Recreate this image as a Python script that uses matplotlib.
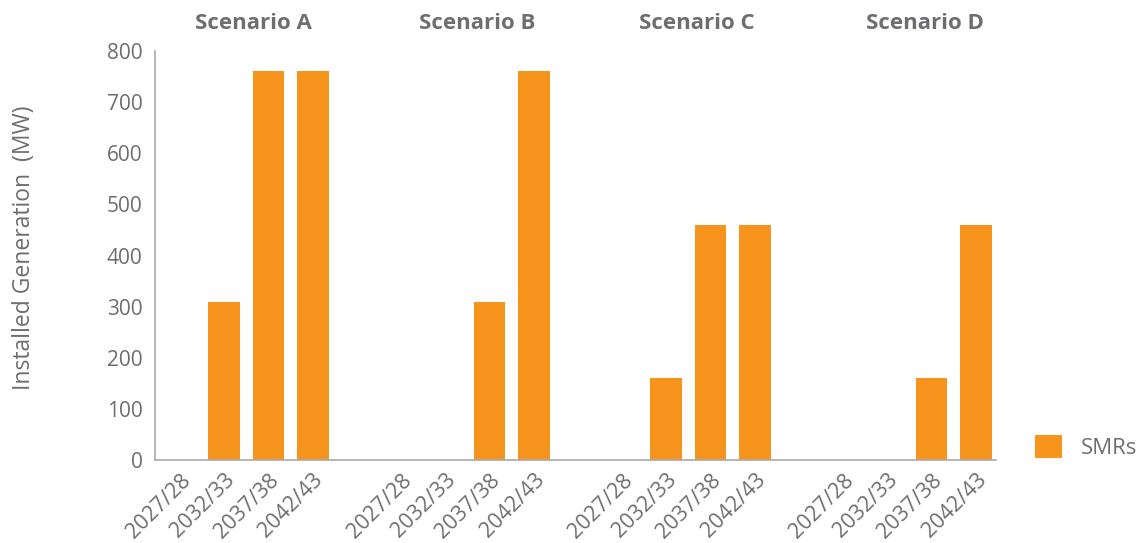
import matplotlib
matplotlib.use("Agg")
import matplotlib.pyplot as plt
from matplotlib.patches import Patch

plt.rcParams['font.family'] = ['Open Sans', 'DejaVu Sans']

scenarios = ["Scenario A", "Scenario B", "Scenario C", "Scenario D"]
years = ["2027/28", "2032/33", "2037/38", "2042/43"]
smr_values = {
    "Scenario A": [0, 310, 760, 760],
    "Scenario B": [0, 0, 310, 760],
    "Scenario C": [0, 160, 460, 460],
    "Scenario D": [0, 0, 160, 460],
}
yticks = [0, 100, 200, 300, 400, 500, 600, 700, 800]

BAR_COLOR = "#f7941d"
TEXT_COLOR = "#6d6e71"
AXIS_COLOR = "#a7a9ac"

fig = plt.figure(figsize=(11.39, 5.43), dpi=100)
ax = fig.add_axes([155 / 1139, 1 - 460 / 543, (996 - 155) / 1139, (460 - 51) / 543])

positions, labels, heights = [], [], []
group_centers = []
for g, sc in enumerate(scenarios):
    base = g * 5
    for i, (yr, v) in enumerate(zip(years, smr_values[sc])):
        positions.append(base + i)
        labels.append(yr)
        heights.append(v)
    group_centers.append(base + 1.5)

ax.bar(positions, heights, width=0.72, color=BAR_COLOR, zorder=2)

ax.set_xlim(-0.566, 18.46)
ax.set_ylim(0, 800)
ax.set_yticks(yticks)
ax.set_yticklabels([str(t) for t in yticks], fontsize=15, color=TEXT_COLOR)
ax.set_xticks(positions)
ax.set_xticklabels(labels, rotation=45, ha="right", rotation_mode="anchor",
                   fontsize=15.5, color=TEXT_COLOR)
ax.tick_params(axis="x", length=0, pad=7)
ax.tick_params(axis="y", length=0, pad=9)

for s in ["top", "right"]:
    ax.spines[s].set_visible(False)
ax.spines["left"].set_color(AXIS_COLOR)
ax.spines["bottom"].set_color(AXIS_COLOR)
ax.spines["left"].set_linewidth(1.2)
ax.spines["bottom"].set_linewidth(1.2)

fig.text(24 / 1139, 1 - 248 / 543, "Installed Generation  (MW)", rotation=90,
         ha="center", va="center", fontsize=16.5, color=TEXT_COLOR)

title_offsets = [0.15, 0.22, 0.2, 0.36]
for sc, cx, off in zip(scenarios, group_centers, title_offsets):
    ax.text(cx + off, 1.068, sc, transform=ax.get_xaxis_transform(),
            ha="center", va="center", fontsize=16, fontweight="bold", color=TEXT_COLOR)

handle = Patch(facecolor=BAR_COLOR, edgecolor="none")
fig.legend([handle], ["SMRs"], loc="center left",
           bbox_to_anchor=(1035 / 1139, 1 - 447 / 543), frameon=False,
           fontsize=16, labelcolor=TEXT_COLOR, handlelength=1.2, handleheight=1.2,
           handletextpad=0.85, borderaxespad=0, borderpad=0)

fig.savefig("out.png", dpi=100, facecolor="white")
